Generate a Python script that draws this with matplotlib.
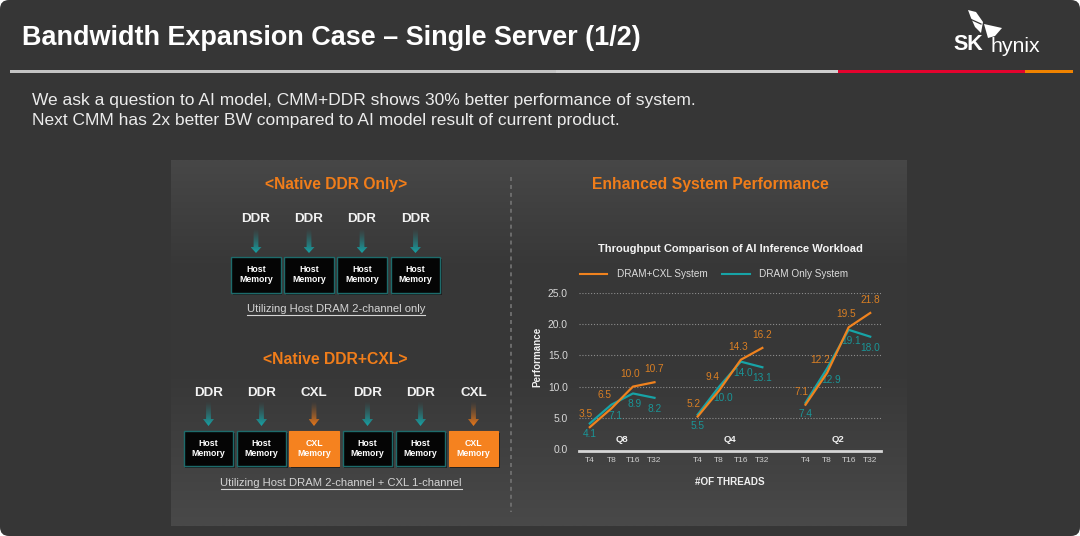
import matplotlib
matplotlib.use('Agg')
import matplotlib.pyplot as plt
import numpy as np
from matplotlib.patches import FancyBboxPatch, Rectangle, Polygon
from matplotlib.colors import to_rgb

plt.rcParams['font.family'] = ['Liberation Sans', 'DejaVu Sans']

# ---------------- data ----------------
quant_groups = ['Q8', 'Q4', 'Q2']
thread_labels = ['T4', 'T8', 'T16', 'T32']
cxl_q8 = [3.5, 6.5, 10.0, 10.7]
cxl_q4 = [5.2, 9.4, 14.3, 16.2]
cxl_q2 = [7.1, 12.2, 19.5, 21.8]
dram_q8 = [4.1, 7.1, 8.9, 8.2]
dram_q4 = [5.5, 10.0, 14.0, 13.1]
dram_q2 = [7.4, 12.9, 19.1, 18.0]
series_names = ['DRAM+CXL System', 'DRAM Only System']
y_ticks = [0, 5, 10, 15, 20, 25]

top_channels = ['DDR', 'DDR', 'DDR', 'DDR']
bottom_channels = ['DDR', 'DDR', 'CXL', 'DDR', 'DDR', 'CXL']

# ---------------- styling ----------------
W, H = 1080, 536
BG = '#363636'
ORANGE = '#f0821e'
ORANGE_TXT = '#d97f24'
TEAL = '#17a3a6'
TEAL_TXT = '#1a9597'
TITLE_OR = '#f07d1a'

fig = plt.figure(figsize=(W / 100, H / 100), dpi=100)
fig.patch.set_facecolor('white')
bg = fig.add_axes([0, 0, 1, 1])
bg.set_xlim(0, W)
bg.set_ylim(H, 0)
bg.axis('off')
renderer = fig.canvas.get_renderer()


def fit(t, target, dim='w'):
    bb = t.get_window_extent(renderer)
    cur = bb.width if dim == 'w' else bb.height
    t.set_fontsize(t.get_fontsize() * target / cur)
    return t


# slide background
bg.add_patch(FancyBboxPatch((0, 0), W, H, boxstyle='round,pad=0,rounding_size=9',
                            fc=BG, ec='none', zorder=0))

# title
t = bg.text(22, 38, 'Bandwidth Expansion Case \u2013 Single Server (1/2)', color='white',
            fontsize=18, fontweight='bold', ha='left', va='center', zorder=5)
fit(t, 621)

# logo
t = bg.text(953, 45, 'SK', color='white', fontsize=15, fontweight='bold',
            ha='left', va='center', zorder=5)
fit(t, 30)
t = bg.text(991, 47, 'hynix', color='white', fontsize=14, ha='left', va='center', zorder=5)
fit(t, 50)
for pts in ([(968, 10), (976, 12), (983, 22), (981, 33), (975, 27), (971, 18)],
            [(984, 24), (1002, 28), (995, 36), (988, 38)]):
    bg.add_patch(Polygon(pts, closed=True, fc='white', ec='none', zorder=5))
bg.plot([970, 981], [19, 24], color=BG, lw=0.9, zorder=6)

# header rule
for x0, x1, c in ((10, 556, '#c4c4c4'), (556, 838, '#cfcfcf'),
                  (838, 1025, '#e4032e'), (1025, 1073, '#f08300')):
    bg.add_patch(Rectangle((x0, 69.5), x1 - x0, 3.5, fc=c, ec='none', zorder=5))

# subtitle
t1 = bg.text(32, 101, 'We ask a question to AI model, CMM+DDR shows 30% better performance of system.',
             color='#ececec', fontsize=12, ha='left', va='center', zorder=5)
fit(t1, 661)
bg.text(32, 121, 'Next CMM has 2x better BW compared to AI model result of current product.',
        color='#ececec', fontsize=t1.get_fontsize(), ha='left', va='center', zorder=5)

# panel with gradient
ys = np.linspace(0, 1, 300)
vals = np.interp(ys, [0, 0.3, 0.6, 1.0], [0x47, 0x37, 0x38, 0x49]) / 255.0
img = np.repeat(vals[:, None, None], 3, axis=2)
bg.imshow(img, extent=(171, 907, 526, 160), aspect='auto', interpolation='bilinear', zorder=1)
bg.set_xlim(0, W)
bg.set_ylim(H, 0)

# divider
bg.plot([511, 511], [177, 512], color='#707070', lw=1.3, ls=(0, (2.2, 2.2)), zorder=2)

# section titles
t = bg.text(336, 185, '<Native DDR Only>', color=TITLE_OR, fontsize=11, fontweight='bold',
            ha='center', va='center', zorder=5)
fit(t, 143)
t = bg.text(335, 359, '<Native DDR+CXL>', color=TITLE_OR, fontsize=11, fontweight='bold',
            ha='center', va='center', zorder=5)
fit(t, 144)
t = bg.text(710, 184, 'Enhanced System Performance', color=TITLE_OR, fontsize=11,
            fontweight='bold', ha='center', va='center', zorder=5)
fit(t, 236)


def grad_arrow(xc, y0, yh, yt, color):
    sw, hw = 2.4, 5.5
    pts = [(xc - sw, y0), (xc + sw, y0), (xc + sw, yh), (xc + hw, yh), (xc, yt),
           (xc - hw, yh), (xc - sw, yh)]
    poly = Polygon(pts, closed=True, fc='none', ec='none', transform=bg.transData)
    bg.add_patch(poly)
    n = 60
    im_arr = np.zeros((n, 1, 4))
    im_arr[..., :3] = to_rgb(color)
    im_arr[:, 0, 3] = np.linspace(0.0, 1.0, n) ** 1.3
    im = bg.imshow(im_arr, extent=(xc - hw, xc + hw, yt, y0), aspect='auto',
                   interpolation='bilinear', zorder=3)
    im.set_clip_path(poly)


def memory_box(xc, y0, y1, kind):
    w = 49.5
    bg.add_patch(Rectangle((xc - w / 2 + 1.5, y0 + 1.5), w, y1 - y0, fc='#1e1e1e', ec='none', zorder=3))
    if kind == 'CXL':
        bg.add_patch(Rectangle((xc - w / 2, y0), w, y1 - y0, fc='#f5821f', ec='#f5821f', lw=0.8, zorder=4))
        lab = 'CXL\nMemory'
    else:
        bg.add_patch(Rectangle((xc - w / 2, y0), w, y1 - y0, fc='#050505', ec='#1d6b6b', lw=1.0, zorder=4))
        lab = 'Host\nMemory'
    top, bot = lab.split('\n')
    ym = (y0 + y1) / 2
    bg.text(xc, ym - 5, top, color='white', fontsize=6.3, fontweight='bold', ha='center', va='center', zorder=5)
    bg.text(xc, ym + 5, bot, color='white', fontsize=6.3, fontweight='bold', ha='center', va='center', zorder=5)


# top diagram
top_x = [256, 309, 362, 415.5]
for xc, ch in zip(top_x, top_channels):
    bg.text(xc, 219, ch, color='#f2f2f2', fontsize=9.6, fontweight='bold', ha='center', va='center', zorder=5)
    grad_arrow(xc, 228, 247, 253, TEAL if ch == 'DDR' else ORANGE)
    memory_box(xc, 257, 293, 'Host')

t = bg.text(336, 309, 'Utilizing Host DRAM 2-channel only', color='#d4d4d4', fontsize=7,
            ha='center', va='center', zorder=5)
fit(t, 178)
bg.plot([247, 425], [315, 315], color='#d4d4d4', lw=0.8, zorder=5)

# bottom diagram
bot_x = [208.5, 261.5, 314, 367.5, 420.5, 473.5]
for xc, ch in zip(bot_x, bottom_channels):
    bg.text(xc, 393, ch, color='#f2f2f2', fontsize=9.6, fontweight='bold', ha='center', va='center', zorder=5)
    grad_arrow(xc, 401, 419, 426, TEAL if ch == 'DDR' else '#e8781a')
    memory_box(xc, 431, 466, 'CXL' if ch == 'CXL' else 'Host')

t = bg.text(341, 483, 'Utilizing Host DRAM 2-channel + CXL 1-channel', color='#d4d4d4', fontsize=7,
            ha='center', va='center', zorder=5)
fit(t, 241)
bg.plot([221, 462], [489, 489], color='#d4d4d4', lw=0.8, zorder=5)

# chart title & legend
t = bg.text(730, 249, 'Throughput Comparison of AI Inference Workload', color='#f4f4f4', fontsize=8,
            fontweight='bold', ha='center', va='center', zorder=5)
fit(t, 266)
bg.plot([580, 607], [274, 274], color=ORANGE, lw=1.5, zorder=5)
t = bg.text(617, 274, series_names[0], color='#dcdcdc', fontsize=7, ha='left', va='center', zorder=5)
fit(t, 91)
bg.plot([722, 750], [274, 274], color=TEAL, lw=1.5, zorder=5)
bg.text(759, 274, series_names[1], color='#dcdcdc', fontsize=t.get_fontsize(), ha='left', va='center', zorder=5)

# ---------------- chart axes ----------------
ax = fig.add_axes([579 / W, (H - 449) / H, 302 / W, 156 / H])
ax.patch.set_alpha(0)
ax.set_xlim(-0.5, 13.5)
ax.set_ylim(0, 25)
for s in ax.spines.values():
    s.set_visible(False)

for v in y_ticks[1:]:
    ax.axhline(v, color='#8c8c8c', lw=0.8, ls=(0, (1, 1.6)), zorder=1)
ax.axhline(-0.25, color='#d6d6d6', lw=2.0, zorder=2, clip_on=False)

ax.set_yticks(y_ticks)
ax.set_yticklabels([f'{v:.1f}' for v in y_ticks], color='#d8d8d8', fontsize=7.4)
ax.tick_params(axis='y', length=0, pad=8)

cxl_all = [cxl_q8, cxl_q4, cxl_q2]
dram_all = [dram_q8, dram_q4, dram_q2]
xpos_all = []
xt, xl = [], []
for g in range(len(quant_groups)):
    xs = [g * (len(thread_labels) + 1) + i for i in range(len(thread_labels))]
    xpos_all.append(xs)
    xt += xs
    xl += thread_labels
ax.set_xticks(xt)
ax.set_xticklabels(xl, color='#d0d0d0', fontsize=6.0)
ax.tick_params(axis='x', length=0, pad=5.5)

orange_dx = [-4, -7, -3, 0]
teal_dx = [0, 4, 2, 0]
for g, name in enumerate(quant_groups):
    xs = xpos_all[g]
    ax.plot(xs, dram_all[g], color=TEAL, lw=1.6, zorder=3, clip_on=False)
    ax.plot(xs, cxl_all[g], color=ORANGE, lw=1.6, zorder=4, clip_on=False)
    for i, (x, v) in enumerate(zip(xs, cxl_all[g])):
        ax.annotate(f'{v:.1f}', (x, v), xytext=(orange_dx[i] * 0.72, 13 * 0.72), textcoords='offset points',
                    ha='center', va='center', color=ORANGE_TXT, fontsize=7.3, annotation_clip=False)
    for i, (x, v) in enumerate(zip(xs, dram_all[g])):
        ax.annotate(f'{v:.1f}', (x, v), xytext=(teal_dx[i] * 0.72, -11 * 0.72), textcoords='offset points',
                    ha='center', va='center', color=TEAL_TXT, fontsize=7.3, annotation_clip=False)
    ax.annotate(name, (np.mean(xs), 0), xytext=(0, 9 * 0.72), textcoords='offset points',
                ha='center', va='center', color='#f0f0f0', fontsize=6.8, fontweight='bold',
                annotation_clip=False)

t = bg.text(537, 357, 'Performance', color='#f0f0f0', fontsize=7.5, fontweight='bold',
            rotation=90, ha='center', va='center', zorder=5)
fit(t, 60, dim='h')
t = bg.text(730, 482, '#OF THREADS', color='#f0f0f0', fontsize=7, fontweight='bold',
            ha='center', va='center', zorder=5)
fit(t, 70)

fig.savefig('out.png', dpi=100, facecolor=fig.get_facecolor())
